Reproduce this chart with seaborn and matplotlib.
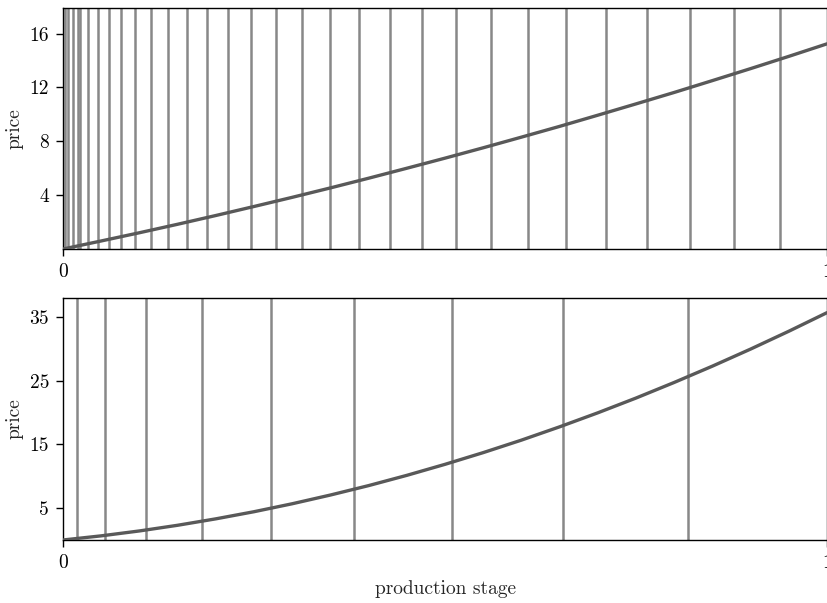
import matplotlib
matplotlib.use("Agg")
import matplotlib.pyplot as plt
import seaborn as sns
import pandas as pd

# ---- data ----
stage = [0.00, 0.05, 0.10, 0.15, 0.20, 0.25, 0.30, 0.35, 0.40, 0.45, 0.50,
         0.55, 0.60, 0.65, 0.70, 0.75, 0.80, 0.85, 0.90, 0.95, 1.00]
price_top = [0.00, 0.60, 1.21, 1.84, 2.49, 3.16, 3.84, 4.54, 5.26, 6.00, 6.75,
             7.52, 8.31, 9.11, 9.94, 10.78, 11.63, 12.51, 13.40, 14.31, 15.24]
price_bottom = [0.00, 0.65, 1.42, 2.31, 3.32, 4.44, 5.69, 7.06, 8.54, 10.15, 11.88,
                13.72, 15.68, 17.77, 19.97, 22.29, 24.74, 27.30, 29.98, 32.78, 35.70]

vlines_top = [0.0025, 0.0065, 0.0125, 0.0200, 0.0219, 0.0331, 0.0454, 0.0598, 0.0763,
              0.0946, 0.1152, 0.1374, 0.1619, 0.1881, 0.2164, 0.2465, 0.2788,
              0.3132, 0.3495, 0.3878, 0.4276, 0.4699, 0.5144, 0.5602, 0.6082,
              0.6584, 0.7103, 0.7648, 0.8203, 0.8787, 0.9389]
vlines_bottom = [0.0183, 0.0550, 0.1086, 0.1820, 0.2720, 0.3810, 0.5090, 0.6540, 0.8180]

yticks_top = [4, 8, 12, 16]
yticks_bottom = [5, 15, 25, 35]
xticks = [0, 1]

# ---- style ----
sns.set_style("ticks")
plt.rcParams["font.family"] = ["cmr10", "DejaVu Serif"]
plt.rcParams["axes.formatter.use_mathtext"] = True
plt.rcParams["mathtext.fontset"] = "cm"

fig = plt.figure(figsize=(8.28, 6.03), dpi=100)
ax1 = fig.add_axes([0.0761, 0.587, 0.9227, 0.3997])
ax2 = fig.add_axes([0.0761, 0.1045, 0.9227, 0.4013])

line_col = "#888888"
curve_col = "#595959"

df_top = pd.DataFrame({"stage": stage, "price": price_top})
df_bot = pd.DataFrame({"stage": stage, "price": price_bottom})

for ax, df, vl, yt, ymax in [(ax1, df_top, vlines_top, yticks_top, 17.9),
                              (ax2, df_bot, vlines_bottom, yticks_bottom, 38.0)]:
    for v in vl:
        ax.axvline(v, color=line_col, lw=1.8, zorder=1)
    sns.lineplot(data=df, x="stage", y="price", ax=ax, color=curve_col, lw=2.4, zorder=3)
    ax.set_xlim(0, 1)
    ax.set_ylim(0, ymax)
    ax.set_xticks(xticks)
    ax.set_xticklabels([str(t) for t in xticks])
    ax.set_yticks(yt)
    ax.set_yticklabels([str(t) for t in yt])
    ax.tick_params(direction="out", length=5, width=1, labelsize=14, colors="black", pad=5)
    for s in ax.spines.values():
        s.set_visible(True)
        s.set_color("black")
        s.set_linewidth(1.0)
    ax.set_ylabel("price", fontsize=14, labelpad=4)
    ax.set_xlabel("")

ax2.set_xlabel("production stage", fontsize=14, labelpad=6)

fig.savefig("out.png", dpi=100)
